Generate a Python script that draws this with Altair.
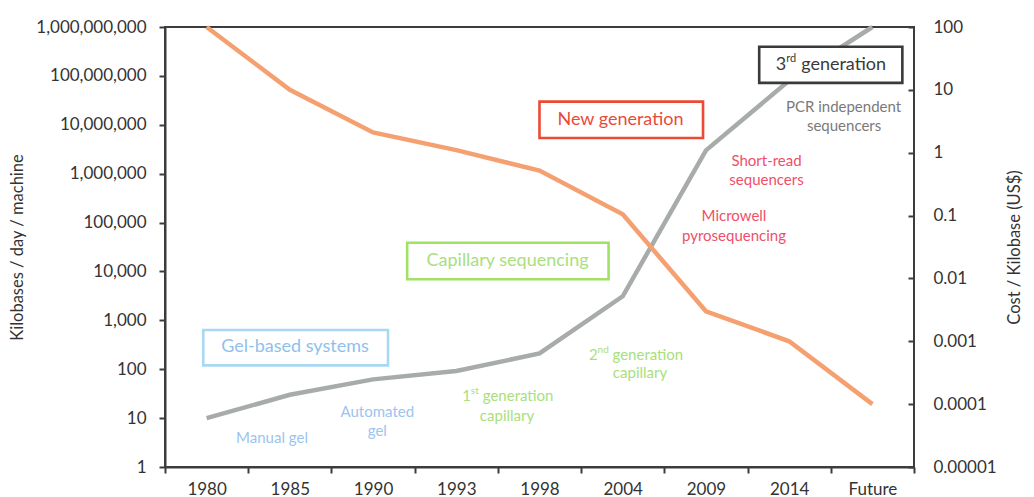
import altair as alt
import pandas as pd

# ---------------- data ----------------
categories = ["1980", "1985", "1990", "1993", "1998", "2004", "2009", "2014", "Future"]
throughput_kb = [10, 30, 62, 92, 210, 3100, 3000000, 80000000, 1000000000]   # Kilobases / day / machine
cost_usd = [100, 10, 2.1, 1.1, 0.52, 0.105, 0.003, 0.001, 0.0001]              # Cost / Kilobase (US$)

left_ticks = [1, 10, 100, 1000, 10000, 100000, 1000000, 10000000, 100000000, 1000000000]
right_ticks = [0.00001, 0.0001, 0.001, 0.01, 0.1, 1, 10, 100]

# annotation boxes (x in category-index units, y in Kilobases units)
box_x0 = [-0.04, 2.41, 4.00, 6.64]
box_x1 = [2.18, 4.83, 5.965, 8.36]
box_y0 = [120, 6900, 5350000, 72000000]
box_y1 = [634, 38600, 29800000, 394000000]
box_color = ["#a9d8f2", "#9fe264", "#ec4a35", "#3a3a3a"]

# big labels inside boxes
big_label = ["Gel-based systems", "Capillary sequencing", "New generation"]
big_x = [1.062, 3.616, 4.973]
big_y = [280, 16700, 12800000]
big_color = ["#8fbfee", "#a8e07c", "#ea4a3c"]

# small annotations
small_label = ["Manual gel", "Automated", "gel", "capillary", "capillary",
               "Microwell", "pyrosequencing", "Short-read", "sequencers",
               "PCR independent", "sequencers"]
small_x = [0.786, 2.051, 2.051, 3.610, 5.208, 6.337, 6.337, 6.728, 6.728, 7.653, 7.66]
small_y = [3.9, 13.5, 5.45, 11.0, 84, 136000, 53000, 1850000, 740000, 23600000, 9600000]
small_color = ["#9cc4ee", "#9cc4ee", "#9cc4ee", "#a8e07c", "#a8e07c",
               "#f04f6a", "#f04f6a", "#f04f6a", "#f04f6a", "#7a7a7a", "#7a7a7a"]

# labels with ordinal superscripts: number, superscript, rest, x, y, colour
ordinal_num = ["1", "2", "3"]
ordinal_sup = ["st", "nd", "rd"]
ordinal_rest = ["generation", "generation", "generation"]
ordinal_x = [3.072, 4.595, 6.838]
ordinal_y = [28.3, 200, 170000000]
ordinal_color = ["#a8e07c", "#a8e07c", "#3a3a3a"]

# ---------------- chart ----------------
FONT = "Lato"
AX = "#3c3c3c"
W, H = 749, 440
n = len(categories)
band = W / n

label_js = "[" + ",".join("'" + c + "'" for c in categories) + ",'']"

x_scale = alt.Scale(domain=[-0.5, n - 0.5], nice=False, zero=False)
x_axis = alt.Axis(
    values=[k - 0.5 for k in range(n + 1)],
    labelExpr=label_js + "[round(datum.value + 0.5)]",
    labelOffset=band / 2,
    title=None, grid=False, tickSize=6, labelPadding=8,
    labelFontSize=17, labelOverlap=False, labelBound=False, labelFlush=False,
)
y_scale = alt.Scale(type="log", domain=[1, 1000000000], nice=False)
y_axis = alt.Axis(
    values=left_ticks, format=",", title="Kilobases / day / machine",
    grid=False, tickSize=6, labelPadding=13, labelFontSize=17,
    titleFontSize=16.5, titlePadding=10,
)


def X(field):
    return alt.X(field, type="quantitative", scale=x_scale, axis=x_axis)


def Y(field):
    return alt.Y(field, type="quantitative", scale=y_scale, axis=y_axis)


line_df = pd.DataFrame({"i": list(range(n)), "cat": categories,
                        "kb": throughput_kb, "cost": cost_usd})

gray_line = alt.Chart(line_df).mark_line(color="#a8aca9", strokeWidth=4.5).encode(
    x=X("i"), y=Y("kb"))

boxes = alt.Chart(pd.DataFrame({"x0": box_x0, "x1": box_x1, "y0": box_y0,
                                "y1": box_y1, "c": box_color})).mark_rect(
    fill="white", strokeWidth=2.6
).encode(x=X("x0"), x2="x1", y=Y("y0"), y2="y1",
         stroke=alt.Stroke("c:N", scale=None))

big_text = alt.Chart(pd.DataFrame({"t": big_label, "x": big_x, "y": big_y,
                                   "c": big_color})).mark_text(
    font=FONT, fontSize=18, align="center", baseline="middle"
).encode(x=X("x"), y=Y("y"), text="t:N", color=alt.Color("c:N", scale=None))

small_text = alt.Chart(pd.DataFrame({"t": small_label, "x": small_x, "y": small_y,
                                     "c": small_color})).mark_text(
    font=FONT, fontSize=15, align="center", baseline="middle"
).encode(x=X("x"), y=Y("y"), text="t:N", color=alt.Color("c:N", scale=None))

# per-label text styling: (font size, superscript size, superscript dx, rest dx)
ordinal_style = [(15, 10, 8.6, 20.5), (15, 10, 8.6, 23.5), (18, 11, 10.5, 25.5)]

ordinal_layers = []
for k in range(len(ordinal_num)):
    fs, ss, sdx, rdx = ordinal_style[k]
    base = alt.Chart(pd.DataFrame({"num": [ordinal_num[k]], "sup": [ordinal_sup[k]],
                                   "rest": [ordinal_rest[k]], "x": [ordinal_x[k]],
                                   "y": [ordinal_y[k]]})).encode(x=X("x"), y=Y("y"))
    c = ordinal_color[k]
    ordinal_layers += [
        base.mark_text(font=FONT, fontSize=fs, align="left", baseline="middle", color=c).encode(text="num:N"),
        base.mark_text(font=FONT, fontSize=ss, align="left", baseline="middle", color=c,
                       dx=sdx, dy=-round(fs * 0.33)).encode(text="sup:N"),
        base.mark_text(font=FONT, fontSize=fs, align="left", baseline="middle", color=c,
                       dx=rdx).encode(text="rest:N"),
    ]

left_layer = alt.layer(gray_line, boxes, big_text, small_text, *ordinal_layers)

orange_line = alt.Chart(line_df).mark_line(color="#f5a070", strokeWidth=4.5).encode(
    x=X("i"),
    y=alt.Y("cost:Q",
            scale=alt.Scale(type="log", domain=[0.00001, 100], nice=False),
            axis=alt.Axis(orient="right", values=right_ticks, format="~g",
                          title="Cost / Kilobase (US$)", titleAngle=270,
                          grid=False, domain=False, offset=-6, tickSize=6,
                          labelPadding=19, labelFontSize=17, titleFontSize=16.5,
                          titlePadding=26)),
)

chart = alt.layer(left_layer, orange_line).resolve_scale(y="independent").properties(
    width=W, height=H,
    padding={"left": 1, "top": 10, "right": 0, "bottom": 0},
).configure_view(
    stroke=AX, strokeWidth=2
).configure_axis(
    labelFont=FONT, titleFont=FONT, titleFontWeight="normal",
    labelColor="#333333", titleColor="#333333",
    domainColor=AX, domainWidth=2, tickColor=AX, tickWidth=2,
)

chart.save("out.html", embed_options={"renderer": "svg", "actions": False})
